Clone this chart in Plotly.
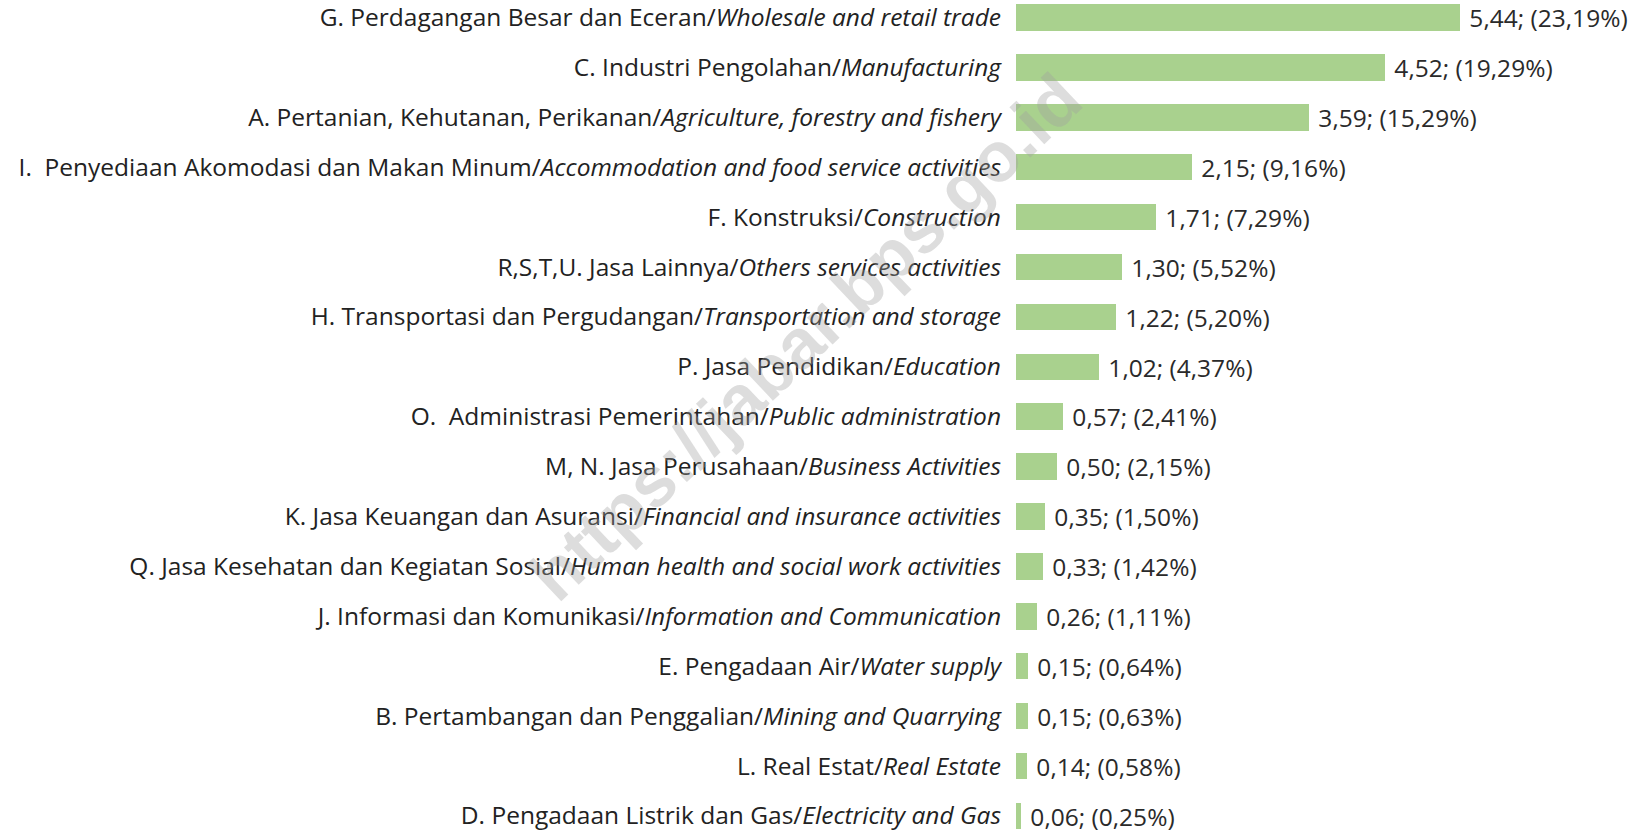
import plotly.graph_objects as go

categories_id = [
    "G. Perdagangan Besar dan Eceran",
    "C. Industri Pengolahan",
    "A. Pertanian, Kehutanan, Perikanan",
    "I.  Penyediaan Akomodasi dan Makan Minum",
    "F. Konstruksi",
    "R,S,T,U. Jasa Lainnya",
    "H. Transportasi dan Pergudangan",
    "P. Jasa Pendidikan",
    "O.  Administrasi Pemerintahan",
    "M, N. Jasa Perusahaan",
    "K. Jasa Keuangan dan Asuransi",
    "Q. Jasa Kesehatan dan Kegiatan Sosial",
    "J. Informasi dan Komunikasi",
    "E. Pengadaan Air",
    "B. Pertambangan dan Penggalian",
    "L. Real Estat",
    "D. Pengadaan Listrik dan Gas",
]
categories_en = [
    "Wholesale and retail trade",
    "Manufacturing",
    "Agriculture, forestry and fishery",
    "Accommodation and food service activities",
    "Construction",
    "Others services activities",
    "Transportation and storage",
    "Education",
    "Public administration",
    "Business Activities",
    "Financial and insurance activities",
    "Human health and social work activities",
    "Information and Communication",
    "Water supply",
    "Mining and Quarrying",
    "Real Estate",
    "Electricity and Gas",
]
values = [5.44, 4.52, 3.59, 2.15, 1.71, 1.30, 1.22, 1.02, 0.57, 0.50, 0.35, 0.33, 0.26, 0.15, 0.15, 0.14, 0.06]
percents = [23.19, 19.29, 15.29, 9.16, 7.29, 5.52, 5.20, 4.37, 2.41, 2.15, 1.50, 1.42, 1.11, 0.64, 0.63, 0.58, 0.25]
watermark = "https://jabar.bps.go.id"

def fmt(x):
    return f"{x:.2f}".replace(".", ",")

tick_text = [f"{a}/<i>{b}</i>" for a, b in zip(categories_id, categories_en)]
bar_text = [f" {fmt(v)}; ({fmt(p)}%)" for v, p in zip(values, percents)]
positions = list(range(len(values)))

FONT = "Open Sans"
FS = 24.5

fig = go.Figure()
fig.add_trace(go.Bar(
    x=values,
    y=positions,
    orientation="h",
    width=0.53,
    marker=dict(color="#a9d18e", line=dict(width=0)),
    text=bar_text,
    textposition="outside",
    constraintext="none",
    textfont=dict(family=FONT, size=FS, color="#2a2a2a"),
    cliponaxis=False,
    hoverinfo="skip",
))

fig.add_annotation(
    text=watermark,
    x=-0.335, y=0.594, xref="paper", yref="paper",
    xanchor="center", yanchor="middle",
    showarrow=False,
    textangle=-43.4,
    font=dict(family="Liberation Sans", size=70, color="rgba(160,160,160,0.36)", weight="bold"),
)

fig.update_layout(
    width=1644, height=831,
    margin=dict(l=1016, r=0, t=0, b=0),
    paper_bgcolor="white",
    plot_bgcolor="white",
    showlegend=False,
    bargap=0,
    font=dict(family=FONT, size=FS, color="#222222"),
    xaxis=dict(range=[0, 7.69], visible=False, fixedrange=True),
    yaxis=dict(
        range=[16.303, -0.351],
        tickvals=positions,
        ticktext=tick_text,
        showgrid=False,
        zeroline=False,
        showline=False,
        ticks="",
        ticklabelstandoff=14,
        ticklabeloverflow="allow",
        tickfont=dict(family=FONT, size=FS, color="#222222"),
        automargin=False,
        fixedrange=True,
    ),
)

fig.write_html("out.html", config={"displayModeBar": False},
               post_script="document.body.style.margin='0';")
